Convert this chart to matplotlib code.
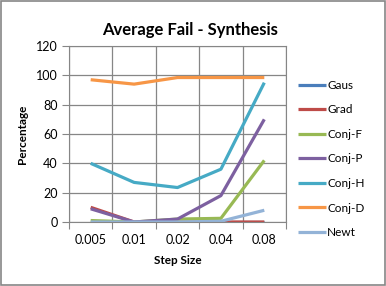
import matplotlib
matplotlib.use("Agg")
import matplotlib.pyplot as plt
from matplotlib.patches import Rectangle

categories = ["0.005", "0.01", "0.02", "0.04", "0.08"]
series_names = ["Gaus", "Grad", "Conj-F", "Conj-P", "Conj-H", "Conj-D", "Newt"]
gaus = [0, 0, 0, 0, 0]
grad = [10, 0, 0, 0, 0]
conj_f = [1, 0, 2, 2.5, 42]
conj_p = [9, 0, 2, 18, 70]
conj_h = [40, 27, 23.5, 36, 95]
conj_d = [97, 94, 98.5, 98.5, 98.5]
newt = [0, 0, 0, 0.5, 8]
colors = ["#4A7EBB", "#BE4B48", "#98B954", "#7D60A0", "#46AAC5", "#F79646", "#93B3D7"]

plt.rcParams['font.family'] = ['Lato', 'DejaVu Sans']

fig = plt.figure(figsize=(3.86, 2.86), dpi=100)
fig.patches.append(Rectangle((0.002, 0.003), 0.995, 0.994, transform=fig.transFigure,
                             fill=False, edgecolor="#868686", linewidth=1.2))
ax = fig.add_axes([69/386, 64/286, 217/386, 176/286])

data = [gaus, grad, conj_f, conj_p, conj_h, conj_d, newt]
x = [i + 0.5 for i in range(len(categories))]
for name, vals, c in zip(series_names, data, colors):
    ax.plot(x, vals, color=c, linewidth=2.3, label=name, solid_capstyle='butt')

ax.set_xlim(0, 5)
ax.set_ylim(0, 120)
ax.set_yticks(range(0, 121, 20))
ax.set_xticks(range(0, 6))
ax.set_xticklabels([])
ax.set_xticks(x, minor=True)
ax.set_xticklabels(categories, minor=True)
ax.tick_params(axis='x', which='minor', length=0, pad=9, labelsize=9)
ax.tick_params(axis='x', which='major', length=5, color="#868686", direction='out')
ax.tick_params(axis='y', length=5, color="#868686", direction='out', labelsize=9, pad=3)
ax.grid(True, which='major', color="#868686", linewidth=0.9)
ax.set_axisbelow(True)
for s in ax.spines.values():
    s.set_color("#868686")
ax.set_ylabel("Percentage", fontsize=8.5, fontweight='bold', labelpad=6)
ax.set_xlabel("Step Size", fontsize=8.5, fontweight='bold', labelpad=6)
fig.text(190/386, 1 - 30/286, "Average Fail - Synthesis", ha='center', va='center',
         fontsize=12, fontweight='bold')

leg = ax.legend(loc='upper left', bbox_to_anchor=(293/386, 1 - 75/286),
                bbox_transform=fig.transFigure, frameon=False, fontsize=8.5,
                handlelength=2.4, handletextpad=0.1, labelspacing=1.15, borderaxespad=0)

fig.savefig("out.png", dpi=100)
